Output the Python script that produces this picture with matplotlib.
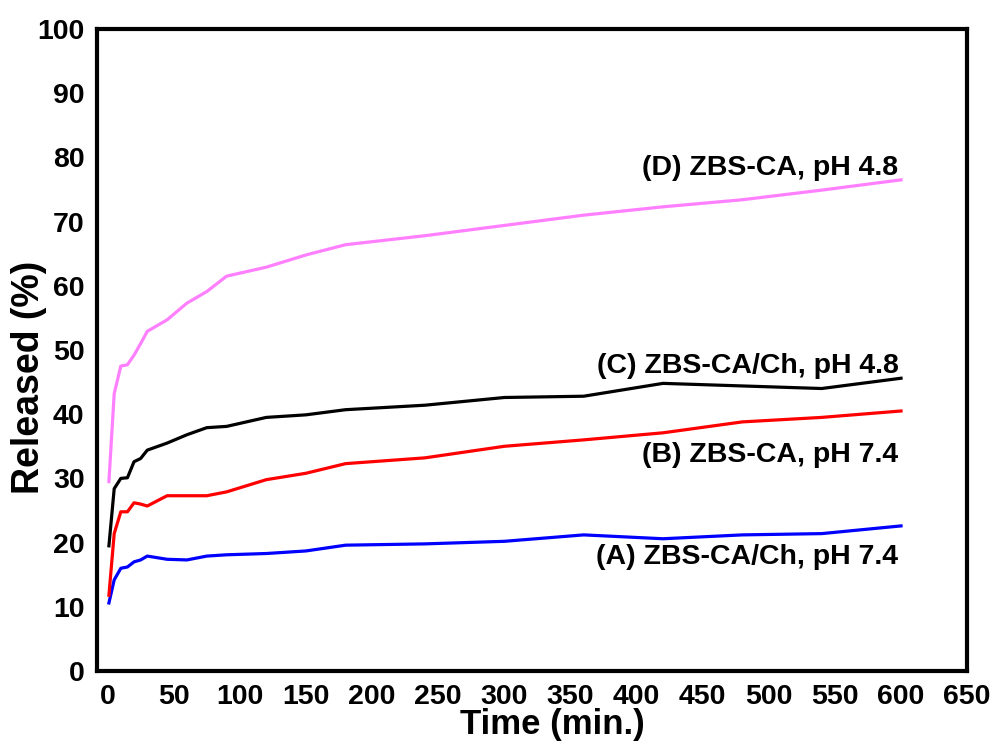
import matplotlib
matplotlib.use("Agg")
import matplotlib.pyplot as plt

# release sampling times (min.)
time_min = [1, 5, 10, 15, 20, 25, 30, 45, 60, 75, 90, 120, 150, 180,
            240, 300, 360, 420, 480, 540, 600]

# cumulative release (%)
rel_a = [10.6, 14.2, 16.0, 16.2, 17.0, 17.3, 17.9, 17.4, 17.3, 17.9, 18.1,
         18.3, 18.7, 19.6, 19.8, 20.2, 21.2, 20.6, 21.2, 21.4, 22.6]
rel_b = [11.8, 21.4, 24.8, 24.8, 26.2, 26.0, 25.7, 27.3, 27.3, 27.3, 27.9,
         29.8, 30.8, 32.3, 33.2, 35.0, 36.0, 37.1, 38.8, 39.5, 40.5]
rel_c = [19.5, 28.4, 30.0, 30.1, 32.6, 33.1, 34.4, 35.5, 36.8, 37.9, 38.1,
         39.5, 39.9, 40.7, 41.4, 42.6, 42.8, 44.8, 44.4, 44.0, 45.6]
rel_d = [29.5, 43.2, 47.5, 47.7, 49.2, 51.0, 52.9, 54.7, 57.3, 59.1, 61.5,
         62.9, 64.8, 66.4, 67.8, 69.4, 71.0, 72.3, 73.4, 74.9, 76.5]

series_labels = ["(A) ZBS-CA/Ch, pH 7.4", "(B) ZBS-CA, pH 7.4",
                 "(C) ZBS-CA/Ch, pH 4.8", "(D) ZBS-CA, pH 4.8"]
label_y = [16.7, 32.6, 46.4, 77.3]
colors = ["#0000FF", "#FF0000", "#000000", "#FF80FF"]

x_ticks = list(range(0, 651, 50))
y_ticks = list(range(0, 101, 10))

plt.rcParams["font.family"] = ["Liberation Sans", "DejaVu Sans"]
plt.rcParams["font.weight"] = "bold"

fig = plt.figure(figsize=(9.95, 7.43), dpi=100)
ax = fig.add_axes([0.0975, 0.0969, 0.8745, 0.8641])

for y, c in zip([rel_a, rel_b, rel_c, rel_d], colors):
    ax.plot(time_min, y, color=c, linewidth=2.3, solid_joinstyle="round")

for text, y in zip(series_labels, label_y):
    ax.text(598, y, text, ha="right", va="baseline", fontsize=20.5,
            fontweight="bold", color="black")

ax.set_xlim(-8, 650)
ax.set_ylim(0, 100)
ax.set_xticks(x_ticks)
ax.set_yticks(y_ticks)
ax.tick_params(length=0, labelsize=20.5, pad=9)
for lab in ax.get_xticklabels() + ax.get_yticklabels():
    lab.set_fontweight("bold")
for sp in ax.spines.values():
    sp.set_linewidth(3)

ax.set_xlabel("Time (min.)", fontsize=25, fontweight="bold", va="center")
ax.xaxis.set_label_coords(0.523, -0.084)
ax.set_ylabel("Released (%)", fontsize=27, fontweight="bold", va="center")
ax.yaxis.set_label_coords(-0.078, 0.458)

fig.savefig("out.png", dpi=100)
